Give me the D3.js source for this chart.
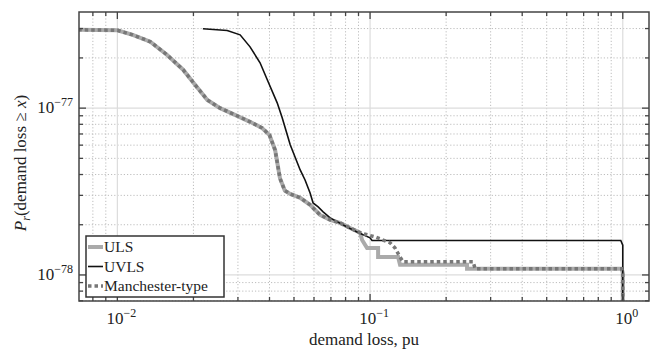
<!DOCTYPE html>
<html>
<head>
<meta charset="utf-8">
<script src="https://cdn.jsdelivr.net/npm/d3@7"></script>
<style>
  body { margin: 0; background: #fff; }
  svg text { font-family: "Liberation Serif", "DejaVu Serif", serif; fill: #222; }
</style>
</head>
<body>
<div id="chart"></div>
<script>
// demand loss (pu) vs P_r(demand loss >= x)
const ulsX = [0.0070, 0.0100, 0.0115, 0.0135, 0.0157, 0.0182, 0.0200, 0.0227, 0.0255, 0.0292, 0.0335, 0.0374, 0.0400, 0.0421, 0.0440, 0.0460, 0.0483, 0.0529, 0.0579, 0.0634, 0.0695, 0.0761, 0.0834, 0.0913, 0.0930, 0.0973, 0.1076, 0.1076, 0.1291, 0.1314, 0.2420, 0.2420, 0.99, 1.0, 1.0];
const ulsP = [2.95e-77, 2.93e-77, 2.75e-77, 2.50e-77, 2.09e-77, 1.70e-77, 1.42e-77, 1.12e-77, 1.00e-77, 9.12e-78, 8.28e-78, 7.6e-78, 6.9e-78, 5.6e-78, 3.8e-78, 3.2e-78, 3.06e-78, 2.90e-78, 2.63e-78, 2.29e-78, 2.14e-78, 2.05e-78, 1.91e-78, 1.79e-78, 1.62e-78, 1.45e-78, 1.45e-78, 1.28e-78, 1.28e-78, 1.15e-78, 1.15e-78, 1.09e-78, 1.09e-78, 1.03e-78, 1e-80];

const uvlsX = [0.0218, 0.0272, 0.0306, 0.0335, 0.0367, 0.0395, 0.0429, 0.0449, 0.0483, 0.0529, 0.0553, 0.0579, 0.0595, 0.0623, 0.0652, 0.0695, 0.0811, 0.0888, 0.1000, 0.1018, 0.982, 1.0, 1.0];
const uvlsP = [2.99e-77, 2.92e-77, 2.75e-77, 2.33e-77, 1.87e-77, 1.44e-77, 1.076e-77, 8.75e-78, 6.03e-78, 4.26e-78, 3.71e-78, 3.10e-78, 2.70e-78, 2.56e-78, 2.39e-78, 2.20e-78, 1.94e-78, 1.81e-78, 1.67e-78, 1.61e-78, 1.61e-78, 1.51e-78, 1e-80];

const manX = ulsX.slice(0, 24).concat([0.1047, 0.1200, 0.1256, 0.1314, 0.1351, 0.2557, 0.2604, 0.99, 1.0, 1.0]);
const manP = ulsP.slice(0, 24).concat([1.69e-78, 1.56e-78, 1.45e-78, 1.28e-78, 1.20e-78, 1.20e-78, 1.09e-78, 1.09e-78, 1.03e-78, 1e-80]);

const xMajor = [1e-2, 1e-1, 1e0];
const xExp = ['\u22122', '\u22121', '0'];
const yMajor = [1e-77, 1e-78];
const yExp = ['\u221277', '\u221278'];

const seriesNames = ['ULS', 'UVLS', 'Manchester-type'];

const W = 650, H = 349;
const MARGIN = {top: 12, right: 1, bottom: 48, left: 79};
const width = W - MARGIN.left - MARGIN.right;
const height = H - MARGIN.top - MARGIN.bottom;

const svg = d3.select('#chart').append('svg')
	.attr('width', W)
	.attr('height', H);

const g = svg.append('g')
	.attr('transform', `translate(${MARGIN.left}, ${MARGIN.top})`);

const x = d3.scaleLog().domain([0.00705, 1.27]).range([0, width]);
const y = d3.scaleLog().domain([6.98e-79, 3.77e-77]).range([height, 0]);

const isMajor = v => Math.abs(Math.log10(v) - Math.round(Math.log10(v))) < 1e-6;
const xMinor = x.ticks().filter(v => !isMajor(v));
const yMinor = y.ticks().filter(v => !isMajor(v));

// grid
g.selectAll('.xminor').data(xMinor).join('line')
	.attr('x1', d => x(d)).attr('x2', d => x(d))
	.attr('y1', 0).attr('y2', height)
	.attr('stroke', '#bdbdbd').attr('stroke-width', 1).attr('stroke-dasharray', '1.2,2');
g.selectAll('.yminor').data(yMinor).join('line')
	.attr('y1', d => y(d)).attr('y2', d => y(d))
	.attr('x1', 0).attr('x2', width)
	.attr('stroke', '#bdbdbd').attr('stroke-width', 1).attr('stroke-dasharray', '1.2,2');
g.selectAll('.xmajor').data(xMajor).join('line')
	.attr('x1', d => x(d)).attr('x2', d => x(d))
	.attr('y1', 0).attr('y2', height)
	.attr('stroke', '#dcdcdc').attr('stroke-width', 1.2);
g.selectAll('.ymajor').data(yMajor).join('line')
	.attr('y1', d => y(d)).attr('y2', d => y(d))
	.attr('x1', 0).attr('x2', width)
	.attr('stroke', '#dcdcdc').attr('stroke-width', 1.2);

// curves
svg.append('clipPath').attr('id', 'clip')
	.append('rect').attr('width', width).attr('height', height);

const line = d3.line().x(d => x(d[0])).y(d => y(d[1]));
const plot = g.append('g').attr('clip-path', 'url(#clip)');

plot.append('path').datum(d3.zip(ulsX, ulsP))
	.attr('d', line).attr('fill', 'none')
	.attr('stroke', '#aaaaaa').attr('stroke-width', 4);
plot.append('path').datum(d3.zip(uvlsX, uvlsP))
	.attr('d', line).attr('fill', 'none')
	.attr('stroke', '#111').attr('stroke-width', 1.6);
plot.append('path').datum(d3.zip(manX, manP))
	.attr('d', line).attr('fill', 'none')
	.attr('stroke', '#777').attr('stroke-width', 3.5).attr('stroke-dasharray', '3.5,3');

// frame
g.append('rect').attr('width', width).attr('height', height)
	.attr('fill', 'none').attr('stroke', '#444').attr('stroke-width', 1.5);

// inward ticks on all sides
const tick = (vals, len, horiz) => {
	vals.forEach(v => {
		if (horiz) {
			g.append('line').attr('x1', x(v)).attr('x2', x(v)).attr('y1', height).attr('y2', height - len).attr('stroke', '#444').attr('stroke-width', 1.3);
			g.append('line').attr('x1', x(v)).attr('x2', x(v)).attr('y1', 0).attr('y2', len).attr('stroke', '#444').attr('stroke-width', 1.3);
		} else {
			g.append('line').attr('y1', y(v)).attr('y2', y(v)).attr('x1', 0).attr('x2', len).attr('stroke', '#444').attr('stroke-width', 1.3);
			g.append('line').attr('y1', y(v)).attr('y2', y(v)).attr('x1', width).attr('x2', width - len).attr('stroke', '#444').attr('stroke-width', 1.3);
		}
	});
};
tick(xMajor, 7, true);
tick(xMinor, 4, true);
tick(yMajor, 7, false);
tick(yMinor, 4, false);

// tick labels
xMajor.forEach((v, i) => {
	const t = g.append('text').attr('x', x(v) + 4).attr('y', height + 23)
		.attr('text-anchor', 'middle').style('font-size', '17px');
	t.append('tspan').text('10');
	t.append('tspan').attr('dy', -7).style('font-size', '12px').text(xExp[i]);
});
yMajor.forEach((v, i) => {
	const t = g.append('text').attr('x', -6).attr('y', y(v) + 5)
		.attr('text-anchor', 'end').style('font-size', '17px');
	t.append('tspan').text('10');
	t.append('tspan').attr('dy', -7).style('font-size', '12px').text(yExp[i]);
});

// axis labels
g.append('text').attr('x', width / 2).attr('y', height + 44)
	.attr('text-anchor', 'middle').style('font-size', '17px')
	.text('demand loss, pu');

const yl = svg.append('text')
	.attr('transform', 'translate(26, 163) rotate(-90)')
	.attr('text-anchor', 'middle').style('font-size', '17px');
yl.append('tspan').style('font-style', 'italic').text('P');
yl.append('tspan').style('font-style', 'italic').style('font-size', '12px').attr('dy', 4).text('r');
yl.append('tspan').attr('dy', -4).text('(demand loss \u2265 ');
yl.append('tspan').style('font-style', 'italic').text('x');
yl.append('tspan').text(')');

// legend
const leg = svg.append('g').attr('transform', 'translate(86, 236)');
leg.append('rect').attr('width', 138).attr('height', 61)
	.attr('fill', '#fff').attr('stroke', '#333').attr('stroke-width', 1.5);
const legStyles = [
	{stroke: '#aaaaaa', w: 4, dash: null},
	{stroke: '#111', w: 1.6, dash: null},
	{stroke: '#777', w: 3.5, dash: '3.5,3'}
];
seriesNames.forEach((name, i) => {
	const cy = 11 + i * 19.5;
	leg.append('line').attr('x1', 2).attr('x2', 17).attr('y1', cy).attr('y2', cy)
		.attr('stroke', legStyles[i].stroke).attr('stroke-width', legStyles[i].w)
		.attr('stroke-dasharray', legStyles[i].dash);
	leg.append('text').attr('x', 18).attr('y', cy + 5).style('font-size', '15.5px').text(name);
});
</script>
</body>
</html>
